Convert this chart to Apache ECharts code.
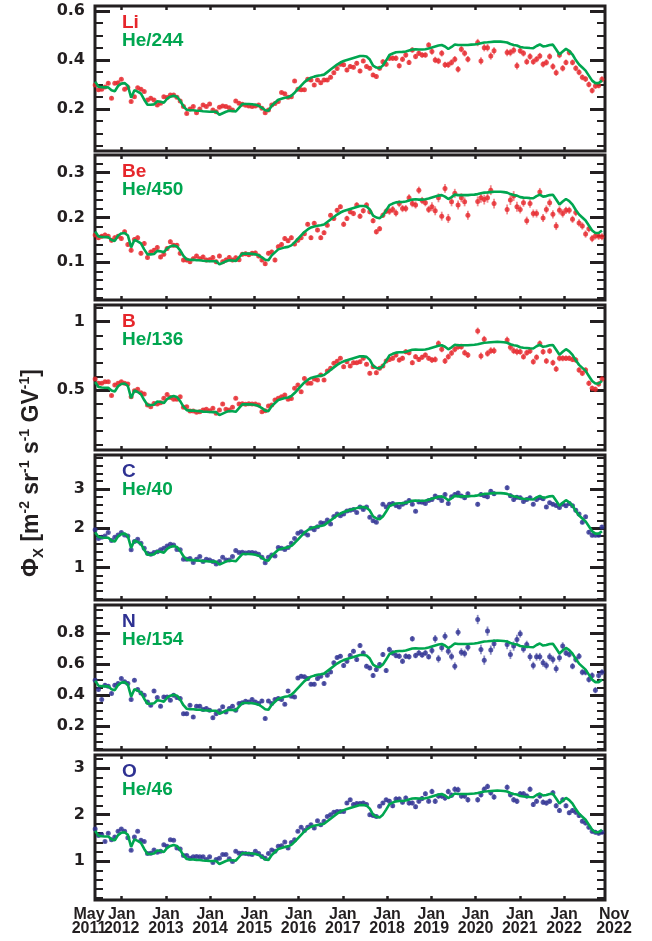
<!DOCTYPE html>
<html><head><meta charset="utf-8">
<script src="https://cdn.jsdelivr.net/npm/echarts@6/dist/echarts.min.js"></script>
<style>html,body{margin:0;padding:0;background:#fff;}#c{width:652px;height:941px;}</style>
</head><body><div id="c"></div>
<script>
// ---------------- DATA ----------------
// one value per Bartels rotation (27 days) starting May 2011
const rotationStartYear = 2011.40;
const rotationLengthYears = 27 / 365.25;

// He flux (same units as He/244 * 244 etc.)
const heFlux = [
 76,71,70.5,70.3,70.3,67.5,66.5,71.7,74,74.5,
 72,60,67.5,66,64,58,53,53,53.4,56.5,
 56,55,59,61,62,61,57,51.5,48,47.5,
 47.5,47.1,47,46.5,46.3,46.1,46,46,43,44.5,
 46,47,46.8,46.3,50,53.7,53.7,53.7,53.5,53,
 52,50,47.5,47,52,55,58,59,60,60.5,
 62,65,68.5,72,75.5,78,80,81,81.8,82.3,
 83,85.5,88,90.5,93,95,96.5,97.5,98.5,99.5,
 100.5,101.5,101.5,101,98,92,90,89.3,92,97,
 102.5,104,105.2,105.5,105.6,106,107,108,108.3,108,
 108,108.3,109,110,111,112,112.5,111,108.5,110.5,
 113,112.5,112.5,112.5,112.5,112.8,113,113.5,114.3,115,
 115.2,115.5,115.8,115.9,115.8,115.5,115,113.5,112.5,112,
 110.5,110,109.8,109.5,109.3,111.5,113,111,111.5,112.5,
 112.8,108,103,106,108.6,106.5,103,97.5,93,90,
 87,82,77,74.5,74.5,77];

const fluxLi = [
 0.298,0.278,0.28,0.29,0.305,0.244,0.305,0.307,0.321,0.28,
 0.288,0.23,0.25,0.287,0.28,0.271,0.237,0.244,0.237,0.216,
 0.223,0.25,0.247,0.257,0.257,0.248,0.233,0.21,0.182,0.2,
 0.21,0.185,0.2,0.216,0.21,0.22,0.196,0.189,0.207,0.212,
 0.21,0.205,0.196,0.233,0.223,0.219,0.215,0.212,0.21,0.212,
 0.216,0.203,0.185,0.196,0.216,0.222,0.23,0.267,0.262,0.248,
 0.25,0.314,0.28,0.278,0.278,0.321,0.318,0.298,0.318,0.307,
 0.318,0.318,0.329,0.348,0.365,0.382,0.38,0.359,0.373,0.37,
 0.386,0.355,0.396,0.373,0.366,0.339,0.332,0.366,0.393,0.382,
 0.407,0.407,0.407,0.376,0.403,0.42,0.39,0.441,0.414,0.427,
 0.42,0.42,0.461,0.434,0.4,0.396,0.427,0.38,0.38,0.39,
 0.403,0.362,0.444,0.427,0.403,null,null,0.471,0.396,0.45,
 0.45,0.416,0.437,null,null,null,0.43,0.43,0.44,0.376,
 0.437,0.427,0.393,0.414,0.393,0.403,0.416,0.382,0.39,0.414,
 0.373,0.348,0.42,0.366,0.39,0.43,0.39,0.366,0.35,0.329,
 0.322,0.3,0.275,0.294,0.296,0.321];

const fluxBe = [
 0.161,0.155,0.158,0.161,0.158,0.149,0.155,0.158,0.153,0.168,
 0.14,0.127,0.151,0.155,0.12,0.142,0.111,0.123,0.127,0.133,
 0.112,0.118,0.131,0.146,0.138,0.138,0.12,0.105,0.105,0.101,
 0.108,0.114,0.108,0.112,0.105,0.106,0.111,0.101,0.114,0.101,
 0.105,0.111,0.105,0.11,0.106,0.118,0.119,0.117,0.12,0.121,
 0.114,0.105,0.097,0.12,0.123,0.105,0.135,0.14,0.153,0.148,
 0.155,0.141,0.149,0.155,0.164,0.185,0.155,0.187,0.172,0.155,
 0.166,0.183,0.205,0.198,0.216,0.224,0.185,0.198,0.213,0.209,
 0.228,0.203,0.215,0.228,0.213,0.193,0.168,0.175,0.205,0.214,
 0.214,0.218,0.21,0.231,0.22,0.22,0.244,0.231,0.228,0.261,
 0.238,0.233,0.218,0.224,0.215,0.244,0.203,0.265,0.198,0.235,
 0.254,0.228,0.244,0.235,0.205,null,null,0.236,0.244,0.24,
 0.244,0.261,0.231,null,null,null,0.218,0.239,0.248,0.224,
 0.218,0.233,0.193,0.231,0.209,0.209,0.257,0.199,0.218,0.233,
 0.207,0.181,0.216,0.209,0.216,0.216,0.196,0.211,0.188,0.181,
 0.163,0.175,0.153,0.159,0.158,0.157];

const fluxB = [
 0.58,0.549,0.549,0.561,0.561,0.459,0.537,0.549,0.561,0.549,
 0.544,0.451,0.495,0.505,0.48,0.471,0.39,0.378,0.402,0.398,
 0.407,0.439,0.468,0.446,0.432,0.432,0.451,0.373,0.378,0.346,
 0.346,0.337,0.341,0.354,0.359,0.349,0.366,0.329,0.354,0.398,
 0.359,0.354,0.373,0.439,0.398,0.4,0.395,0.4,0.398,0.398,
 0.39,0.341,0.349,0.383,0.39,0.427,0.439,0.451,0.463,0.432,
 0.437,0.512,0.537,0.488,0.585,0.549,0.549,0.58,0.573,0.61,
 0.573,0.639,0.659,0.695,0.71,0.732,0.671,0.707,0.676,0.7,
 0.7,0.707,0.732,0.688,0.622,0.671,0.627,0.659,0.676,0.712,
 0.724,0.732,0.756,0.72,0.732,0.78,0.773,0.7,0.744,0.724,
 0.74,0.756,0.732,0.72,0.724,0.841,0.798,0.712,0.744,0.77,
 0.798,0.817,0.817,0.773,0.756,null,null,0.932,0.749,0.871,
 0.768,0.788,0.788,null,null,null,0.866,0.812,0.788,0.78,
 0.78,0.744,0.773,0.785,0.707,0.739,0.841,0.78,0.712,0.785,
 0.7,0.654,0.732,0.732,0.732,0.732,0.724,0.72,0.646,0.622,
 0.646,0.549,0.512,0.505,0.544,0.58];

const fluxC = [
 1.96,1.74,1.77,1.8,1.89,1.69,1.77,1.83,1.89,1.83,
 1.8,1.45,1.66,1.72,1.62,1.49,1.36,1.34,1.38,1.4,
 1.45,1.49,1.55,1.59,1.57,1.46,1.45,1.21,1.21,1.23,
 1.13,1.21,1.28,1.15,1.21,1.19,1.15,1.09,1.15,1.26,
 1.19,1.19,1.28,1.43,1.38,1.39,1.37,1.38,1.38,1.37,
 1.34,1.26,1.12,1.26,1.32,1.29,1.51,1.49,1.46,1.51,
 1.62,1.74,1.87,1.91,1.87,1.83,2.0,1.96,2.04,2.14,
 2.13,2.21,2.11,2.3,2.36,2.32,2.36,2.44,2.46,2.48,
 2.4,2.54,2.48,2.54,2.28,2.19,2.15,2.29,2.61,2.54,
 2.61,2.63,2.58,2.54,2.61,2.65,2.71,2.61,2.43,2.67,
 2.66,2.63,2.71,2.73,2.82,2.78,2.71,2.86,2.63,2.8,
 2.86,2.9,2.82,2.78,2.88,null,null,2.61,2.86,2.83,
 2.8,2.94,2.88,null,null,null,3.03,2.83,2.73,2.79,
 2.78,2.68,2.73,2.78,2.61,2.73,2.78,2.75,2.54,2.65,
 2.61,2.58,2.53,2.61,2.57,2.63,2.57,2.46,2.36,2.15,
 2.29,1.9,1.82,1.82,1.82,2.03];

const fluxN = [
 0.496,0.436,0.371,0.464,0.457,0.41,0.464,0.475,0.507,0.486,
 0.475,0.371,0.496,0.436,0.414,0.399,0.356,0.334,0.427,0.384,
 0.328,0.388,0.388,0.367,0.399,0.384,0.378,0.28,0.28,0.334,
 0.259,0.328,0.328,0.306,0.313,0.302,0.254,0.28,0.298,0.324,
 0.291,0.313,0.328,0.302,0.345,0.35,0.36,0.355,0.371,0.356,
 0.345,0.362,0.248,0.362,0.345,0.371,0.378,0.371,0.341,0.427,
 0.393,0.388,0.511,0.522,0.518,0.507,0.47,0.47,0.507,0.522,
 0.475,0.529,0.55,0.609,0.643,0.652,0.591,0.619,0.656,0.684,
 0.63,0.721,0.673,0.587,0.576,0.527,0.565,0.598,0.663,0.559,
 0.695,0.673,0.656,0.652,0.619,0.652,0.648,0.764,0.656,0.673,
 0.66,0.673,0.648,0.689,0.764,0.635,0.706,0.781,0.684,0.65,
 0.587,0.807,0.678,0.669,0.71,null,null,0.889,0.695,0.626,
 0.814,0.691,0.732,null,null,null,0.727,0.663,0.717,0.76,
 0.797,0.699,0.727,0.648,0.591,0.648,0.648,0.609,0.591,0.648,
 0.63,0.57,0.641,0.717,0.673,0.663,0.587,0.63,0.652,0.548,
 0.548,0.501,0.527,0.432,0.527,0.548];

const fluxO = [
 1.69,1.55,1.57,1.42,1.6,1.46,1.52,1.64,1.69,1.64,
 1.5,1.23,1.52,1.64,1.45,1.42,1.16,1.17,1.24,1.19,
 1.21,1.35,1.32,1.46,1.45,1.28,1.26,1.12,1.12,1.06,
 1.09,1.1,1.09,1.09,1.03,1.09,0.97,1.03,1.06,1.14,
 1.14,1.05,0.99,1.21,1.17,1.17,1.16,1.15,1.14,1.21,
 1.16,1.1,1.06,1.16,1.24,1.21,1.32,1.33,1.41,1.28,
 1.4,1.46,1.64,1.73,1.66,1.73,1.78,1.71,1.87,1.78,
 1.86,1.96,2.0,2.05,2.07,2.07,2.07,2.25,2.32,2.22,
 2.24,2.24,2.25,2.22,2.0,1.98,1.96,2.18,2.25,2.32,
 2.29,2.19,2.34,2.34,2.27,2.36,2.25,2.25,2.17,2.29,
 2.35,2.45,2.29,2.5,2.29,2.4,2.4,2.36,2.5,2.42,
 2.55,2.54,2.4,2.4,2.32,null,null,2.32,2.43,2.55,
 2.61,2.47,2.38,null,null,null,2.59,2.43,2.32,2.29,
 2.45,2.45,2.4,2.55,2.22,2.29,2.4,2.27,2.25,2.29,
 2.47,2.19,2.09,2.32,2.19,2.04,2.09,2.05,1.98,1.86,
 1.82,1.73,1.64,1.62,1.6,1.62];

// typical error (half length of bar) per calendar year 2011..2022
const errLi = [0.007,0.007,0.007,0.007,0.007,0.008,0.009,0.011,0.013,0.015,0.013,0.012];
const errBe = [0.005,0.005,0.005,0.005,0.005,0.005,0.006,0.008,0.010,0.011,0.009,0.008];
const errB  = [0.012,0.012,0.012,0.012,0.012,0.013,0.015,0.018,0.022,0.025,0.022,0.02];
const errC  = [0.03,0.03,0.03,0.03,0.03,0.035,0.04,0.045,0.05,0.06,0.05,0.05];
const errN  = [0.012,0.012,0.012,0.012,0.012,0.013,0.015,0.018,0.025,0.03,0.025,0.02];
const errO  = [0.03,0.03,0.03,0.03,0.03,0.035,0.04,0.05,0.06,0.06,0.055,0.05];

const panelNames = ['Li','Be','B','C','N','O'];
const heDivisors = [244,450,136,40,154,46];
const xTickYears = [2012,2013,2014,2015,2016,2017,2018,2019,2020,2021,2022];
const xEndLabels = ['May\n2011','Nov\n2022'];
const yMajorTicks = [[0.2,0.4,0.6],[0.1,0.2,0.3],[0.5,1],[1,2,3],[0.2,0.4,0.6,0.8],[1,2,3]];
const yMinorTicks = [
 [0.05,0.1,0.15,0.25,0.3,0.35,0.45,0.5,0.55],
 [0.02,0.04,0.06,0.08,0.12,0.14,0.16,0.18,0.22,0.24,0.26,0.28,0.32],
 [0.1,0.2,0.3,0.4,0.6,0.7,0.8,0.9,1.1],
 [0.2,0.4,0.6,0.8,1.2,1.4,1.6,1.8,2.2,2.4,2.6,2.8,3.2,3.4,3.6,3.8],
 [0.05,0.1,0.15,0.25,0.3,0.35,0.45,0.5,0.55,0.65,0.7,0.75,0.85,0.9,0.95],
 [0.2,0.4,0.6,0.8,1.2,1.4,1.6,1.8,2.2,2.4,2.6,2.8,3.2]
];

// ---------------- LAYOUT / STYLE ----------------
const panelFlux = [fluxLi, fluxBe, fluxB, fluxC, fluxN, fluxO];
const panelErr = [errLi, errBe, errB, errC, errN, errO];
const FONT = '"Liberation Sans", Arial, Helvetica, sans-serif';
const YFONT = '"DejaVu Sans", "Liberation Sans", sans-serif';
const INK = '#231f20';
const RED = '#e6262b', BLUE = '#2e3192', GREEN = '#00a650';
const panelColors = [RED, RED, RED, BLUE, BLUE, BLUE];
const errColors = ['rgba(230,38,43,0.55)','rgba(230,38,43,0.55)','rgba(230,38,43,0.55)',
                   'rgba(46,49,146,0.55)','rgba(46,49,146,0.55)','rgba(46,49,146,0.55)'];
const panelTops = [6, 155, 305, 455, 605, 755];
const panelH = 145;
const GL = 95, GW = 510;
const yRanges = [[0.0286,0.62],[0.0159,0.3395],[0.061,1.122],[0.172,3.866],[0.0447,0.983],[0.159,3.287]];
const xMin = 2011.396, xMax = 2022.927;

function rotTime(i){ return rotationStartYear + i * rotationLengthYears; }
function fmt(v){ return String(+(+v).toFixed(2)); }

const grid = [], xAxis = [], yAxis = [], series = [], graphic = [];
for (let k = 0; k < 6; k++) {
  grid.push({left: GL, width: GW, top: panelTops[k], height: panelH, show: true,
             borderColor: INK, borderWidth: 3, backgroundColor: 'rgba(0,0,0,0)'});
  const xBase = {type: 'value', gridIndex: k, min: xMin, max: xMax,
    axisLine: {show: false}, splitLine: {show: false},
    axisTick: {show: true, inside: true, length: 4, customValues: xTickYears,
               lineStyle: {color: INK, width: 2.5}}};
  xAxis.push(Object.assign({}, xBase, {position: 'bottom',
    axisLabel: {show: k === 5, customValues: xTickYears, formatter: v => 'Jan\n' + Math.round(v),
      fontFamily: FONT, fontWeight: 'bold', fontSize: 16, lineHeight: 14, color: INK, margin: 8}}));
  xAxis.push(Object.assign({}, xBase, {position: 'top', axisLabel: {show: false}}));
  const [ymin, ymax] = yRanges[k];
  const yBase = {type: 'value', gridIndex: k, min: ymin, max: ymax,
    axisLine: {show: false}, splitLine: {show: false}};
  yAxis.push(Object.assign({}, yBase, {position: 'left',
    axisTick: {show: true, inside: true, length: 15, customValues: yMajorTicks[k], lineStyle: {color: INK, width: 3}},
    axisLabel: {show: true, customValues: yMajorTicks[k], formatter: fmt, margin: 10,
      fontFamily: YFONT, fontWeight: 'bold', fontSize: 16, color: INK}}));
  yAxis.push(Object.assign({}, yBase, {position: 'left',
    axisTick: {show: true, inside: true, length: 8, customValues: yMinorTicks[k], lineStyle: {color: INK, width: 2}},
    axisLabel: {show: false}}));
  yAxis.push(Object.assign({}, yBase, {position: 'right',
    axisTick: {show: true, inside: true, length: 15, customValues: yMajorTicks[k], lineStyle: {color: INK, width: 3}},
    axisLabel: {show: false}}));
  yAxis.push(Object.assign({}, yBase, {position: 'right',
    axisTick: {show: true, inside: true, length: 8, customValues: yMinorTicks[k], lineStyle: {color: INK, width: 2}},
    axisLabel: {show: false}}));

  const flux = panelFlux[k], errs = panelErr[k];
  const pts = [];
  flux.forEach((v, i) => {
    if (v == null) return;
    const t = rotTime(i);
    const e = errs[Math.min(errs.length - 1, Math.floor(t) - 2011)];
    pts.push([t, v, e]);
  });
  const ecol = errColors[k];
  series.push({type: 'custom', xAxisIndex: 2 * k, yAxisIndex: 4 * k, z: 2, silent: true,
    data: pts, clip: true,
    renderItem: function (params, api) {
      const x = api.value(0), v = api.value(1), e = api.value(2);
      const p1 = api.coord([x, v - e]), p2 = api.coord([x, v + e]);
      return {type: 'line', shape: {x1: p1[0], y1: p1[1], x2: p2[0], y2: p2[1]},
              style: {stroke: ecol, lineWidth: 1.8}};
    }});
  series.push({type: 'scatter', xAxisIndex: 2 * k, yAxisIndex: 4 * k, z: 3, silent: true,
    data: pts.map(p => [p[0], p[1]]), symbol: 'circle', symbolSize: 5,
    itemStyle: {color: panelColors[k]}});
  series.push({type: 'line', xAxisIndex: 2 * k, yAxisIndex: 4 * k, z: 4, silent: true,
    data: heFlux.map((h, i) => [rotTime(i), h / heDivisors[k]]),
    showSymbol: false, symbol: 'none', lineStyle: {color: GREEN, width: 2.6}});

  graphic.push({type: 'text', x: 122, y: panelTops[k] + 16.5,
    style: {text: panelNames[k], fill: panelColors[k], font: 'bold 19px ' + FONT, verticalAlign: 'middle', align: 'left'}});
  graphic.push({type: 'text', x: 122, y: panelTops[k] + 35,
    style: {text: 'He/' + heDivisors[k], fill: GREEN, font: 'bold 19px ' + FONT, verticalAlign: 'middle', align: 'left'}});
}

graphic.push({type: 'text', x: 89, y: 908,
  style: {text: xEndLabels[0], fill: INK, fontFamily: FONT, fontWeight: 'bold', fontSize: 16, lineHeight: 14,
          align: 'center', verticalAlign: 'top'}});
graphic.push({type: 'text', x: 614, y: 908,
  style: {text: xEndLabels[1], fill: INK, fontFamily: FONT, fontWeight: 'bold', fontSize: 16, lineHeight: 14,
          align: 'center', verticalAlign: 'top'}});

graphic.push({type: 'text', x: 32, y: 473, rotation: Math.PI / 2,
  style: {
    text: '{a|Φ}{s|X}{a| [m}{p|-2}{a| sr}{p|-1}{a| s}{p|-1}{a| GV}{p|-1}{a|]}',
    align: 'center', verticalAlign: 'middle',
    rich: {
      a: {fontFamily: FONT, fontWeight: 'bold', fontSize: 23, fill: INK, lineHeight: 28, verticalAlign: 'middle'},
      s: {fontFamily: FONT, fontWeight: 'bold', fontSize: 15, fill: INK, lineHeight: 28, verticalAlign: 'bottom'},
      p: {fontFamily: FONT, fontWeight: 'bold', fontSize: 14, fill: INK, lineHeight: 14, verticalAlign: 'top'}
    }
  }});

const chart = echarts.init(document.getElementById('c'), null, {renderer: 'canvas'});
chart.setOption({animation: false, backgroundColor: '#fff', grid, xAxis, yAxis, series, graphic});
</script></body></html>
